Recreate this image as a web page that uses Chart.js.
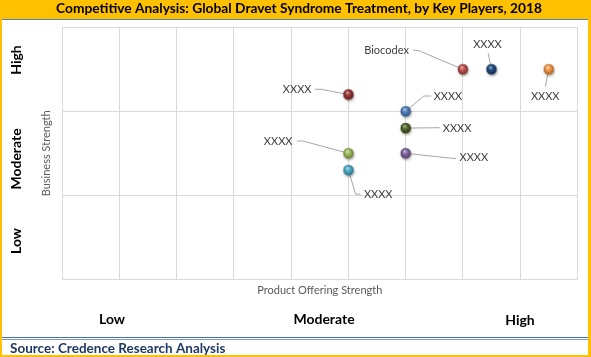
<!DOCTYPE html>
<html>
<head>
<meta charset="utf-8">
<script src="https://cdn.jsdelivr.net/npm/chart.js@4/dist/chart.umd.min.js"></script>
<style>
html,body{margin:0;padding:0;background:#fff;}
canvas{display:block;}
</style>
</head>
<body>
<canvas id="c" width="591" height="357"></canvas>
<script>
// ---- data ----
const companies = ['Biocodex','XXXX','XXXX','XXXX','XXXX','XXXX','XXXX','XXXX','XXXX'];
const productStrength = [7, 7.5, 8.5, 5, 6, 6, 6, 5, 5];
const businessStrength = [2.5, 2.5, 2.5, 2.2, 2.0, 1.8, 1.5, 1.5, 1.3];
const xLevels = ['Low','Moderate','High'];
const yLevels = ['Low','Moderate','High'];
const chartTitle = 'Competitive Analysis: Global Dravet Syndrome Treatment, by Key Players, 2018';
const xTitle = 'Product Offering Strength';
const yTitle = 'Business Strength';
const sourceText = 'Source: Credence Research Analysis';

// ---- styles / layout ----
const pointColors = ['#C0504D','#1F497D','#F79646','#943634','#4F81BD','#4F6228','#8064A2','#9BBB59','#4BACC6'];
const labelLayout = [
  {dx:-54, dy:-19.3, align:'right', path:[[-44,-18.6],[-50,-19.3]]},
  {dx:-4, dy:-25.3, align:'center', path:[[-3.3,-16]]},
  {dx:-3.5, dy:26.7, align:'center', path:[[-3.3,17.4]]},
  {dx:-37, dy:-5.2, align:'right', path:[[-27,-5.2],[-33.5,-5.2]]},
  {dx:28, dy:-15.3, align:'left', path:[[18.2,-15.3],[25.6,-15.3]]},
  {dx:37.2, dy:0.2, align:'left', path:[[33.9,-0.4]]},
  {dx:53.9, dy:4.4, align:'left', path:[[50.6,5.4]]},
  {dx:-56, dy:-11.6, align:'right', path:[[-45.5,-12.3],[-51.5,-12.3]]},
  {dx:15.5, dy:24, align:'left', path:[[7.2,24],[12.2,24]]}
];
const xLevelPos = [{x:112, y:319}, {x:324, y:319}, {x:520, y:320.7}];
const yLevelPos = [{x:16, y:241}, {x:16, y:159}, {x:16, y:60}];

function shade(hex, f){
  const n = parseInt(hex.slice(1),16);
  let r=(n>>16)&255, g=(n>>8)&255, b=n&255;
  if (f>=0){ r=r+(255-r)*f; g=g+(255-g)*f; b=b+(255-b)*f; }
  else { r=r*(1+f); g=g*(1+f); b=b*(1+f); }
  return 'rgb('+Math.round(r)+','+Math.round(g)+','+Math.round(b)+')';
}
function sphere(color){
  const cv = document.createElement('canvas');
  cv.width = 18; cv.height = 18;
  const c = cv.getContext('2d');
  const cx = 9, cy = 9, r = 5.2;
  c.save();
  c.shadowColor = 'rgba(0,0,0,0.35)';
  c.shadowBlur = 2.5; c.shadowOffsetX = 0.8; c.shadowOffsetY = 1.5;
  c.beginPath(); c.arc(cx,cy,r,0,Math.PI*2); c.fillStyle = color; c.fill();
  c.restore();
  const g = c.createRadialGradient(cx-1.2, cy-2.2, 0.3, cx, cy, r);
  g.addColorStop(0, shade(color, 0.55));
  g.addColorStop(0.45, color);
  g.addColorStop(1, shade(color, -0.35));
  c.beginPath(); c.arc(cx,cy,r,0,Math.PI*2); c.fillStyle = g; c.fill();
  return cv;
}
const pointImages = pointColors.map(sphere);

const framePlugin = {
  id: 'frame',
  beforeDraw(chart){
    const ctx = chart.ctx, W = chart.width, H = chart.height;
    ctx.save();
    ctx.fillStyle = '#fff'; ctx.fillRect(0,0,W,H);
    ctx.fillStyle = '#FFC000';
    ctx.fillRect(0,0,W,19);
    ctx.fillRect(0,0,2,H);
    ctx.fillRect(588,0,3,H);
    ctx.fillRect(0,355,W,2);
    ctx.fillStyle = '#4F81BD';
    ctx.fillRect(2,19,586,1);
    ctx.fillStyle = '#4A72A8';
    ctx.fillRect(2,337,586,1);
    ctx.fillStyle = '#7A9CCB';
    ctx.fillRect(2,339,586,1);
    ctx.restore();
  },
  beforeDatasetsDraw(chart){
    const ctx = chart.ctx;
    const meta = chart.getDatasetMeta(0);
    ctx.save();
    ctx.strokeStyle = '#A6A6A6'; ctx.lineWidth = 1;
    meta.data.forEach((pt,i)=>{
      const L = labelLayout[i];
      ctx.beginPath(); ctx.moveTo(pt.x, pt.y);
      L.path.forEach(p=>ctx.lineTo(pt.x+p[0], pt.y+p[1]));
      ctx.stroke();
    });
    ctx.restore();
  },
  afterDatasetsDraw(chart){
    const ctx = chart.ctx;
    const meta = chart.getDatasetMeta(0);
    ctx.save();
    ctx.font = '11px Lato';
    ctx.fillStyle = '#404040';
    ctx.textBaseline = 'middle';
    meta.data.forEach((pt,i)=>{
      const L = labelLayout[i];
      ctx.textAlign = L.align;
      ctx.fillText(companies[i], pt.x+L.dx, pt.y+L.dy);
    });
    ctx.restore();
  },
  afterDraw(chart){
    const ctx = chart.ctx;
    ctx.save();
    ctx.font = 'bold 14px Lato';
    ctx.fillStyle = '#000';
    ctx.textAlign = 'center'; ctx.textBaseline = 'middle';
    xLevels.forEach((t,i)=>ctx.fillText(t, xLevelPos[i].x, xLevelPos[i].y));
    yLevels.forEach((t,i)=>{
      ctx.save();
      ctx.translate(yLevelPos[i].x, yLevelPos[i].y);
      ctx.rotate(-Math.PI/2);
      ctx.fillText(t,0,0);
      ctx.restore();
    });
    ctx.font = 'bold 13.5px Lato';
    ctx.fillStyle = '#1F3864';
    ctx.textAlign = 'left';
    ctx.fillText(sourceText, 10, 348.3);
    ctx.restore();
  }
};

new Chart(document.getElementById('c'), {
  type: 'scatter',
  data: {
    datasets: [{
      label: 'Key Players',
      data: productStrength.map((x,i)=>({x:x, y:businessStrength[i]})),
      pointStyle: pointImages,
      pointRadius: 5,
      backgroundColor: pointColors,
      borderColor: pointColors
    }]
  },
  options: {
    responsive: false,
    animation: false,
    events: [],
    devicePixelRatio: 1,
    layout: { padding: { left: 20.7, right: 13.7, top: 0, bottom: 19 } },
    plugins: {
      legend: { display: false },
      tooltip: { enabled: false },
      title: {
        display: true, text: chartTitle, color: '#000',
        font: { family: 'Lato', size: 13.75, weight: 'bold', lineHeight: 1.2 },
        padding: { top: 0.75, bottom: 10.05 }
      }
    },
    scales: {
      x: {
        type: 'linear', min: 0, max: 9,
        ticks: { display: false, stepSize: 1 },
        grid: { color: '#D9D9D9', drawTicks: false },
        border: { color: '#D9D9D9' },
        title: { display: true, text: xTitle, color: '#595959',
                 font: { family: 'Lato', size: 11 }, padding: { top: 0, bottom: 41.4 } },
        afterFit(s){ s.height = 58.7; }
      },
      y: {
        type: 'linear', min: 0, max: 3,
        ticks: { display: false, stepSize: 1 },
        grid: { color: '#D9D9D9', drawTicks: false },
        border: { color: '#D9D9D9' },
        title: { display: true, text: yTitle, color: '#595959',
                 font: { family: 'Lato', size: 11 }, padding: { top: 18.7, bottom: 0 } },
        afterFit(s){ s.width = 41.6; }
      }
    }
  },
  plugins: [framePlugin]
});
</script>
</body>
</html>
